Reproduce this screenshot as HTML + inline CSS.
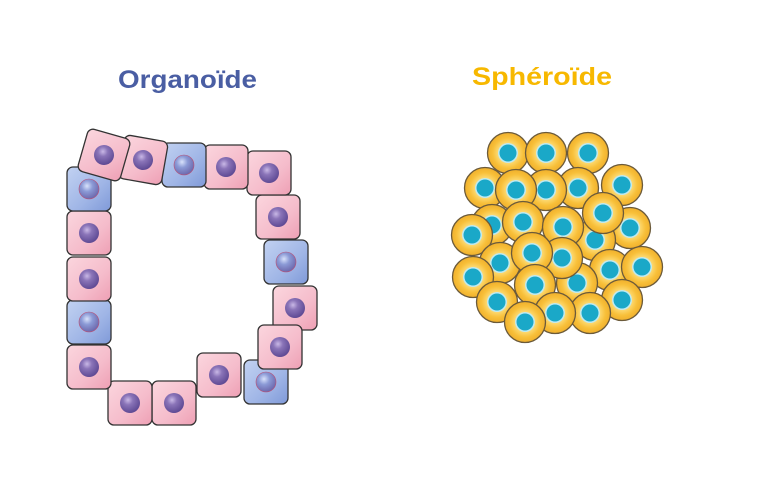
<!DOCTYPE html>
<html><head><meta charset="utf-8"><style>
html,body{margin:0;padding:0;background:#fff;}
svg{display:block;}
</style></head><body>
<svg width="760" height="491" viewBox="0 0 760 491" xmlns="http://www.w3.org/2000/svg">
<defs>
<linearGradient id="pk" x1="0" y1="0" x2="1" y2="1">
<stop offset="0" stop-color="#fbd6de"/><stop offset="0.6" stop-color="#f5bccb"/><stop offset="1" stop-color="#ee9fb4"/></linearGradient>
<linearGradient id="bl" x1="0" y1="0" x2="1" y2="1">
<stop offset="0" stop-color="#c2d2f2"/><stop offset="0.6" stop-color="#9fb5e6"/><stop offset="1" stop-color="#7f99d8"/></linearGradient>
<radialGradient id="nu" cx="0.4" cy="0.35" r="0.7">
<stop offset="0" stop-color="#c9b8e6"/><stop offset="0.35" stop-color="#8a74b8"/><stop offset="1" stop-color="#5a4590"/></radialGradient>
<radialGradient id="nub" cx="0.4" cy="0.35" r="0.7">
<stop offset="0" stop-color="#d8e2fb"/><stop offset="0.4" stop-color="#8b9ad6"/><stop offset="1" stop-color="#6a63a8"/></radialGradient>
<radialGradient id="yc" cx="0.5" cy="0.5" r="0.5">
<stop offset="0" stop-color="#fff2c0"/><stop offset="0.45" stop-color="#fddc78"/><stop offset="0.75" stop-color="#f8c03a"/><stop offset="1" stop-color="#f0b02c"/></radialGradient>
<g id="pc"><rect x="-22" y="-22" width="44" height="44" rx="6" fill="url(#pk)" stroke="#333" stroke-width="1.3"/><circle cx="0" cy="0" r="10" fill="url(#nu)"/></g>
<g id="bc"><rect x="-22" y="-22" width="44" height="44" rx="6" fill="url(#bl)" stroke="#333" stroke-width="1.3"/><circle cx="0" cy="0" r="10" fill="url(#nub)" stroke="#c05070" stroke-width="0.6"/></g>
<g id="yc1"><circle r="20.5" fill="url(#yc)" stroke="#6b5a3a" stroke-width="1.3"/><circle r="10" fill="#bfeaf2"/><circle r="8.5" fill="#1aa8c8"/></g>
</defs>
<text x="118" y="88" font-family="Liberation Sans, sans-serif" font-weight="bold" font-size="25" fill="#4a5ea3" textLength="139" lengthAdjust="spacingAndGlyphs">Organoïde</text>
<text x="472" y="85" font-family="Liberation Sans, sans-serif" font-weight="bold" font-size="25" fill="#f7b800" textLength="140" lengthAdjust="spacingAndGlyphs">Sphéroïde</text>

<use href="#pc" transform="translate(278,217)"/>
<use href="#bc" transform="translate(286,262)"/>
<use href="#pc" transform="translate(295,308)"/>
<use href="#bc" transform="translate(266,382)"/>
<use href="#pc" transform="translate(280,347)"/>
<use href="#pc" transform="translate(219,375)"/>
<use href="#pc" transform="translate(174,403)"/>
<use href="#pc" transform="translate(130,403)"/>
<use href="#pc" transform="translate(89,367)"/>
<use href="#bc" transform="translate(89,322)"/>
<use href="#pc" transform="translate(89,279)"/>
<use href="#pc" transform="translate(89,233)"/>
<use href="#bc" transform="translate(89,189)"/>
<use href="#pc" transform="translate(269,173)"/>
<use href="#pc" transform="translate(226,167)"/>
<use href="#bc" transform="translate(184,165)"/>
<use href="#pc" transform="translate(143,160) rotate(10)"/>
<use href="#pc" transform="translate(104,155) rotate(16)"/>

<use href="#yc1" x="508" y="153"/>
<use href="#yc1" x="546" y="153"/>
<use href="#yc1" x="588" y="153"/>
<use href="#yc1" x="622" y="185"/>
<use href="#yc1" x="485" y="188"/>
<use href="#yc1" x="578" y="188"/>
<use href="#yc1" x="546" y="190"/>
<use href="#yc1" x="516" y="190"/>
<use href="#yc1" x="492" y="225"/>
<use href="#yc1" x="630" y="228"/>
<use href="#yc1" x="595" y="240"/>
<use href="#yc1" x="603" y="213"/>
<use href="#yc1" x="523" y="222"/>
<use href="#yc1" x="563" y="227"/>
<use href="#yc1" x="472" y="235"/>
<use href="#yc1" x="500" y="263"/>
<use href="#yc1" x="610" y="270"/>
<use href="#yc1" x="577" y="283"/>
<use href="#yc1" x="562" y="258"/>
<use href="#yc1" x="532" y="253"/>
<use href="#yc1" x="642" y="267"/>
<use href="#yc1" x="473" y="277"/>
<use href="#yc1" x="535" y="285"/>
<use href="#yc1" x="497" y="302"/>
<use href="#yc1" x="622" y="300"/>
<use href="#yc1" x="590" y="313"/>
<use href="#yc1" x="555" y="313"/>
<use href="#yc1" x="525" y="322"/>
</svg>
</body></html>
